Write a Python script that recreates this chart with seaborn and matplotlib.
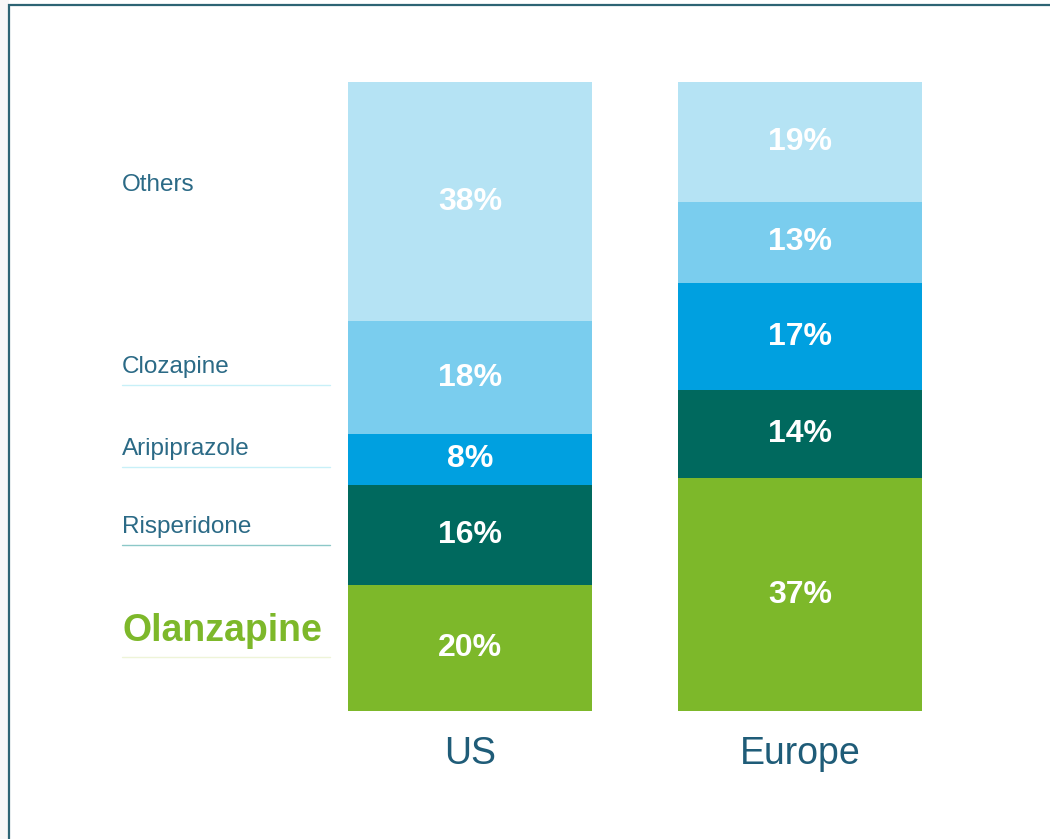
import numpy as np
import pandas as pd
import matplotlib
matplotlib.use("Agg")
import matplotlib.pyplot as plt
import seaborn as sns
from matplotlib.patches import Rectangle
from matplotlib.lines import Line2D

# data: share of prescriptions by region (bottom to top)
regions = ["US", "Europe"]
drugs = ["Olanzapine", "Risperidone", "Aripiprazole", "Clozapine", "Others"]
us_share = [20, 16, 8, 18, 38]
europe_share = [37, 14, 17, 13, 19]

colors = ["#7DB82A", "#00695E", "#00A0E0", "#7ACDEE", "#B5E3F4"]
label_colors = ["#7DB82A", "#2B6A86", "#2B6A86", "#2B6A86", "#2B6A86"]
line_colors = ["#EEF4D8", "#8CC8C8", "#C8F0F8", "#C8F0F8", None]

sns.set_style("white")
plt.rcParams["font.family"] = ["Liberation Sans", "DejaVu Sans"]

df = pd.DataFrame({"region": np.repeat(regions, len(drugs)),
                   "drug": drugs * len(regions),
                   "share": us_share + europe_share})
df["top"] = df.groupby("region")["share"].cumsum()
df["mid"] = df["top"] - df["share"] / 2

fig = plt.figure(figsize=(10.5, 8.39), dpi=100)
ax = fig.add_axes([348 / 1050, 128 / 839, 574 / 1050, 629 / 839])

# stacked bars: draw cumulative heights from the top layer down
for i in reversed(range(len(drugs))):
    sub = df[df["drug"] == drugs[i]]
    sns.barplot(data=sub, x="region", y="top", order=regions, color=colors[i],
                saturation=1, width=0.74, linewidth=0, ax=ax, errorbar=None)

for _, r in df.iterrows():
    ax.text(regions.index(r["region"]), r["mid"], f"{r['share']}%",
            ha="center", va="center", color="white", fontsize=23, fontweight="bold")

ax.set_xlim(-0.37, 1.37)
ax.set_ylim(0, 100)
ax.set_xlabel("")
ax.set_ylabel("")
ax.set_yticks([])
ax.tick_params(axis="x", length=0, pad=18, labelsize=27, labelcolor="#1F5C78")
sns.despine(ax=ax, left=True, bottom=True)

# left-hand legend labels, lined up with the US segments
x0 = -0.37 - 226 / 330
x1 = -0.37 - 18 / 330
label_y = [12.7, 29.3, 41.7, 54.7, 83.6]
for i, d in enumerate(drugs):
    big = d == "Olanzapine"
    ax.text(x0, label_y[i], d, ha="left", va="center",
            color=label_colors[i], fontsize=27 if big else 17.5,
            fontweight="bold" if big else "normal", clip_on=False)
    if line_colors[i]:
        ly = label_y[i] - (4.1 if big else 2.9)
        ax.add_line(Line2D([x0, x1], [ly, ly], color=line_colors[i], lw=1, clip_on=False))

# frame around the slide
fig.add_artist(Rectangle((0, 0), 0.0085, 1, transform=fig.transFigure,
                         facecolor="#F7F7F7", edgecolor="none"))
fig.add_artist(Rectangle((0.0085, -0.05), 1.1, 0.994 + 0.05, transform=fig.transFigure,
                         fill=False, edgecolor="#2D6474", lw=1.6))

fig.savefig("out.png", dpi=100)
